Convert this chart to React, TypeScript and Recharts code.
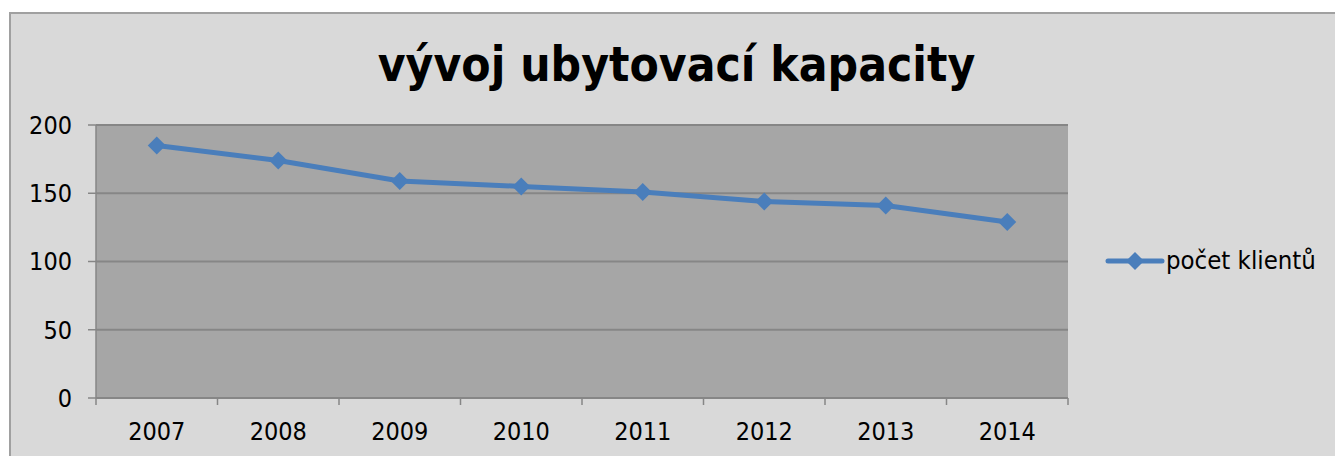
import React from "react";
import { CartesianGrid, Legend, Line, LineChart, XAxis, YAxis } from "recharts";

const years = ["2007", "2008", "2009", "2010", "2011", "2012", "2013", "2014"];
const clients = [185, 174, 159, 155, 151, 144, 141, 129];
const yTicks = [0, 50, 100, 150, 200];
const seriesName = "počet klientů";
const title = "vývoj ubytovací kapacity";

const data = years.map((year, i) => ({ year, clients: clients[i] }));

const W = 1335;
const H = 456;
const PLOT_LEFT = 96;
const PLOT_RIGHT = 1068;
const LEGEND_W = 220;
const BAND = (PLOT_RIGHT - PLOT_LEFT) / years.length;
const FONT = "'DejaVu Sans Condensed', 'DejaVu Sans', sans-serif";
const BLUE = "#4a7ebb";
const AXIS = "#868686";

const Diamond = ({ cx, cy, r = 9 }: { cx: number; cy: number; r?: number }) => (
  <polygon points={`${cx},${cy - r} ${cx + r},${cy} ${cx},${cy + r} ${cx - r},${cy}`} fill={BLUE} />
);

const XTick = (props: any) => {
  const { x, y, payload, index } = props;
  const axisY = y - 8;
  return (
    <g>
      <line x1={x - BAND / 2} x2={x - BAND / 2} y1={axisY} y2={axisY + 7} stroke={AXIS} strokeWidth={1.5} />
      {index === years.length - 1 && (
        <line x1={x + BAND / 2} x2={x + BAND / 2} y1={axisY} y2={axisY + 7} stroke={AXIS} strokeWidth={1.5} />
      )}
      <text x={x} y={axisY + 42} textAnchor="middle" fontFamily={FONT} fontSize={25} fill="#000">
        {payload.value}
      </text>
    </g>
  );
};

const LegendContent = () => (
  <svg width={LEGEND_W} height={30} style={{ overflow: "visible" }}>
    <line x1={2} x2={56} y1={15} y2={15} stroke={BLUE} strokeWidth={5} strokeLinecap="round" />
    <Diamond cx={29} cy={15} />
    <text x={60} y={23} fontFamily={FONT} fontSize={25.5} fill="#000">
      {seriesName}
    </text>
  </svg>
);

export default function App() {
  return (
    <div style={{ position: "fixed", left: 0, top: 0, width: W, height: H, overflow: "hidden", background: "#fff" }}>
      <div
        style={{
          position: "absolute",
          left: 9,
          top: 12,
          width: W,
          height: H,
          background: "#d9d9d9",
          border: "2px solid #a0a0a0",
        }}
      />
      <div
        style={{
          position: "absolute",
          left: 0,
          top: 35,
          width: W + 18,
          textAlign: "center",
          fontFamily: FONT,
          fontWeight: "bold",
          fontSize: 47.5,
          lineHeight: "60px",
          color: "#000",
        }}
      >
        {title}
      </div>
      <div style={{ position: "absolute", left: 0, top: 0 }}>
        <LineChart
          width={W}
          height={H}
          data={data}
          margin={{ top: 125, right: W - PLOT_RIGHT - LEGEND_W, bottom: 0, left: 0 }}
        >
          <CartesianGrid vertical={false} stroke={AXIS} strokeWidth={2} fill="#a6a6a6" />
          <XAxis
            dataKey="year"
            height={58}
            padding={{ left: BAND / 2, right: BAND / 2 }}
            axisLine={{ stroke: AXIS, strokeWidth: 1.5 }}
            tickLine={false}
            tick={<XTick />}
            interval={0}
          />
          <YAxis
            width={PLOT_LEFT}
            domain={[0, 200]}
            ticks={yTicks}
            tickSize={8}
            tickMargin={16}
            axisLine={{ stroke: AXIS, strokeWidth: 1.5 }}
            tickLine={{ stroke: AXIS, strokeWidth: 1.5 }}
            tick={{ fontFamily: FONT, fontSize: 25, fill: "#000" }}
          />
          <Legend
            layout="vertical"
            align="right"
            verticalAlign="top"
            content={<LegendContent />}
            wrapperStyle={{ left: 1106, top: 246, width: LEGEND_W }}
          />
          <Line
            dataKey="clients"
            name={seriesName}
            stroke={BLUE}
            strokeWidth={5}
            isAnimationActive={false}
            dot={(p: any) => <Diamond key={p.index} cx={p.cx} cy={p.cy} />}
            activeDot={false}
          />
        </LineChart>
      </div>
    </div>
  );
}
